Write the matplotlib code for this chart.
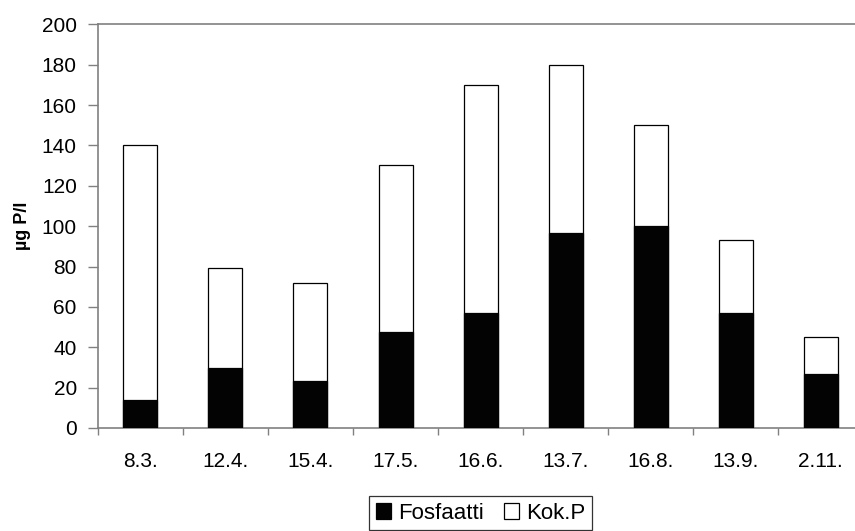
import matplotlib.pyplot as plt
import numpy as np

plt.rcParams['font.family'] = ['Liberation Sans', 'DejaVu Sans']

# sampling dates and phosphorus values (ug P/l)
dates = ['8.3.', '12.4.', '15.4.', '17.5.', '16.6.', '13.7.', '16.8.', '13.9.', '2.11.']
fosfaatti = [14, 29.5, 23.5, 47.5, 57, 96.5, 100, 57, 27]
kok_p = [140, 79.5, 72, 130.5, 170, 180, 150, 93, 45]

x = np.arange(len(dates))

fig = plt.figure(figsize=(8.55, 5.31), dpi=100)
ax = fig.add_axes([0.1146, 0.194, 0.8948, 0.760])

ax.bar(x, kok_p, width=0.4, color='white', edgecolor='black', linewidth=0.9, label='Kok.P', zorder=2)
ax.bar(x, fosfaatti, width=0.4, color='#030303', edgecolor='#030303', linewidth=0.9, label='Fosfaatti', zorder=3)

ax.set_xlim(-0.5, len(dates) - 0.5)
ax.set_ylim(0, 200)
ax.set_yticks(range(0, 201, 20))
ax.set_xticks(x)
ax.set_xticklabels(dates)
ax.set_xticks(np.arange(-0.5, len(dates), 1.0), minor=True)

ax.tick_params(axis='y', length=7.2, width=1, color='#808080', pad=8, labelsize=15)
ax.tick_params(axis='x', which='major', length=0, pad=17, labelsize=15)
ax.tick_params(axis='x', which='minor', length=5, width=1, color='#808080')

for side in ['left', 'bottom', 'top']:
    ax.spines[side].set_color('#808080')
    ax.spines[side].set_linewidth(1.2)
ax.spines['right'].set_visible(False)

ax.set_ylabel('µg P/l', fontsize=13, fontweight='bold', labelpad=8)

handles, labels = ax.get_legend_handles_labels()
leg = ax.legend(handles[::-1], labels[::-1], loc='upper center',
                bbox_to_anchor=(0.562, 0.066), bbox_transform=fig.transFigure,
                ncol=2, fontsize=16, frameon=True, fancybox=False,
                handlelength=0.7, handleheight=0.7, handletextpad=0.3,
                columnspacing=0.9, borderpad=0.3, borderaxespad=0)
leg.get_frame().set_edgecolor('black')
leg.get_frame().set_linewidth(0.9)

fig.savefig('out.png', dpi=100)
